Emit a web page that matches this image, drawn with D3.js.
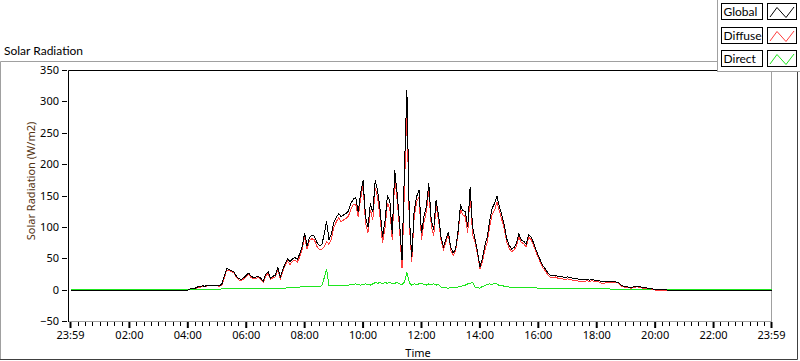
<!DOCTYPE html>
<html>
<head>
<meta charset="utf-8">
<script src="https://cdn.jsdelivr.net/npm/d3@7"></script>
<style>
  body { margin: 0; background: #fff; }
  svg { display: block; font-family: "Noto Sans", sans-serif; }
</style>
</head>
<body>
<div id="chart"></div>
<script>
// chart values
const xTickMinutes = [-1, 120, 240, 360, 480, 600, 720, 840, 960, 1080, 1200, 1320, 1439];
const xTickLabels = ["23:59", "02:00", "04:00", "06:00", "08:00", "10:00", "12:00", "14:00", "16:00", "18:00", "20:00", "22:00", "23:59"];
const yTicks = [-50, 0, 50, 100, 150, 200, 250, 300, 350];

const seriesNames = ["Global", "Diffuse", "Direct"];
const seriesColors = ["#000000", "#ff3c3c", "#1ee61e"];
const nightLevels = [0, 0, 1.5];   // value before first / after last sample

// samples every 5 min from 04:00 to 20:40
const startMinute = 240;
const stepMinutes = 5;

const globalRad = [
  0, 2, 3, 3, 5, 5, 7, 6, 8, 8, 8,
  8, 8, 7, 10, 22, 34, 33, 31, 29, 22,
  18, 17, 20, 24, 27, 22, 20, 21, 22, 19,
  14, 25, 29, 19, 22, 24, 36, 21, 33, 42,
  50, 45, 50, 52, 49, 58, 70, 91, 70, 84,
  88, 86, 76, 71, 72, 88, 110, 80, 90, 108,
  116, 122, 117, 120, 122, 126, 138, 145, 147, 125,
  154, 175, 117, 100, 138, 124, 175, 158, 128, 85,
  110, 150, 142, 90, 191, 154, 107, 48, 191, 319,
  117, 53, 127, 149, 159, 91, 117, 133, 170, 112,
  96, 143, 120, 85, 69, 80, 93, 69, 59, 66,
  93, 135, 127, 125, 101, 165, 100, 82, 62, 37,
  50, 70, 85, 110, 130, 138, 150, 133, 120, 104,
  82, 72, 65, 68, 74, 90, 80, 78, 73, 88,
  85, 76, 65, 55, 46, 38, 33, 27, 23, 23,
  24, 22, 21, 21, 20, 21, 20, 19, 18, 18,
  17, 17, 17, 17, 16, 17, 16, 16, 15, 13,
  13, 14, 14, 13, 14, 13, 12, 8, 6, 5,
  5, 4, 5, 6, 6, 5, 4, 4, 3, 3,
  2, 1, 1, 1, 1, 1, 0, 0, 0, 0
];

const diffuseRad = [
  0, 2, 2, 2, 4, 4, 6, 5, 7, 7, 7,
  7, 7, 6, 8, 20, 32, 31, 29, 27, 20,
  16, 15, 18, 22, 25, 20, 18, 19, 20, 17,
  12, 23, 27, 17, 20, 21, 33, 18, 30, 39,
  46, 41, 46, 48, 45, 53, 65, 86, 65, 79,
  82, 80, 70, 65, 65, 69, 77, 73, 82, 100,
  109, 115, 109, 112, 114, 118, 129, 136, 137, 116,
  146, 166, 107, 91, 128, 112, 163, 147, 116, 75,
  98, 139, 130, 80, 180, 144, 98, 35, 163, 291,
  105, 45, 117, 140, 149, 80, 108, 125, 160, 103,
  86, 135, 111, 80, 65, 76, 90, 64, 55, 62,
  88, 129, 120, 117, 91, 154, 88, 77, 58, 34,
  44, 63, 76, 100, 121, 127, 140, 126, 112, 98,
  77, 67, 61, 64, 70, 85, 76, 74, 69, 84,
  81, 72, 61, 52, 43, 35, 30, 24, 20, 20,
  21, 19, 18, 18, 17, 18, 17, 16, 15, 15,
  14, 14, 14, 15, 14, 15, 14, 14, 13, 11,
  11, 12, 12, 12, 13, 12, 11, 7, 5, 4,
  4, 3, 4, 5, 5, 4, 3, 3, 2, 2,
  1, 0, -1, -1, -1, -1, -1, 0, 0, 0
];

const directRad = [
  1.5, 1.5, 1.5, 1.5, 1.5, 1.5, 1.5, 1.5, 1.5, 1.5, 1.5,
  1.5, 1.5, 1.5, 2, 2, 2, 2, 2, 2, 2,
  2, 2, 2, 2, 2, 2, 2, 2, 2, 2,
  2, 2, 2, 2, 2, 3, 3, 3, 3, 3,
  4, 4, 4, 4, 4, 5, 5, 5, 5, 5,
  6, 6, 6, 6, 7, 19, 33, 7, 8, 8,
  7, 7, 8, 8, 8, 8, 9, 9, 10, 9,
  8, 9, 10, 9, 8, 10, 12, 11, 12, 10,
  12, 11, 12, 10, 11, 12, 10, 9, 13, 28,
  12, 8, 10, 9, 10, 11, 9, 8, 10, 9,
  10, 8, 9, 5, 4, 4, 3, 5, 4, 4,
  5, 6, 7, 8, 10, 11, 12, 5, 4, 3,
  6, 7, 9, 10, 9, 11, 10, 7, 8, 6,
  5, 5, 4, 4, 4, 5, 4, 4, 4, 4,
  4, 4, 4, 3, 3, 3, 3, 3, 3, 3,
  3, 3, 3, 3, 3, 3, 3, 3, 3, 3,
  3, 3, 3, 2, 2, 2, 2, 2, 2, 2,
  2, 2, 2, 1.5, 1.5, 1.5, 1.5, 1.5, 1.5, 1.5,
  1.5, 1.5, 1.5, 1.5, 1.5, 1.5, 1.5, 1.5, 1.5, 1.5,
  1.5, 1.5, 1.5, 1.5, 1.5, 1.5, 1.5, 1.5, 1.5, 1.5
];

const seriesValues = [globalRad, diffuseRad, directRad];

// layout
const width = 800, height = 361;
const plot = { left: 68, top: 70, right: 772, bottom: 322 };

const svg = d3.select("#chart").append("svg")
  .attr("width", width)
  .attr("height", height);

const x = d3.scaleLinear().domain([-1, 1439]).range([70.5, 771.5]);
const y = d3.scaleLinear().domain([-50, 350]).range([321.5, 70.5]);

// outer panel
svg.append("path")
  .attr("d", `M0.5,360 V61.5 H797`)
  .attr("fill", "none").attr("stroke", "#a0a0a0");
svg.append("path")
  .attr("d", `M0,359.5 H797.5 V61`)
  .attr("fill", "none").attr("stroke", "#404040");

svg.append("text")
  .attr("x", 4).attr("y", 55)
  .style("font-size", "12px")
  .style("font-family", "Lato")
  .text("Solar Radiation");

// plot frame
svg.append("path")
  .attr("d", `M${plot.right},${plot.bottom - 0.5} H${plot.left} `)
  .attr("stroke", "#a0a0a0").attr("fill", "none");
svg.append("path")
  .attr("d", `M${plot.right - 0.5},${plot.top} V${plot.bottom}`)
  .attr("stroke", "#a0a0a0").attr("fill", "none");
svg.append("path")
  .attr("d", `M${plot.left + 0.5},${plot.bottom} V${plot.top + 0.5} H${plot.right}`)
  .attr("stroke", "#000").attr("fill", "none");

// lines
const line = d3.line()
  .x(d => x(d[0]))
  .y(d => y(d[1]));

const order = [2, 1, 0];
order.forEach(k => {
  const vals = seriesValues[k];
  const pts = [[-1, nightLevels[k]]];
  vals.forEach((v, i) => pts.push([startMinute + i * stepMinutes, v]));
  pts.push([1439, nightLevels[k]]);
  svg.append("path")
    .datum(pts)
    .attr("d", line)
    .attr("fill", "none")
    .attr("stroke", seriesColors[k])
    .attr("stroke-width", 1)
    .attr("shape-rendering", "crispEdges");
});

// y axis
const yAxis = svg.append("g")
  .attr("transform", `translate(${plot.left - 1},0)`)
  .call(d3.axisLeft(y).tickValues(yTicks).tickSize(5).tickSizeOuter(0).tickPadding(3).offset(0));
yAxis.select(".domain").remove();
yAxis.selectAll("line").attr("stroke", "#000").attr("shape-rendering", "crispEdges");
yAxis.selectAll("text")
  .style("font-size", "11px")
  .style("font-family", "Noto Sans")
  .attr("fill", "#000");

// x axis: minor ticks every 15 min
const minorTicks = d3.range(15, 1440, 15).filter(m => m % 120 !== 0);
svg.append("g")
  .selectAll("line")
  .data(minorTicks)
  .join("line")
  .attr("x1", d => Math.round(x(d) - 0.5) + 0.5)
  .attr("x2", d => Math.round(x(d) - 0.5) + 0.5)
  .attr("y1", plot.bottom)
  .attr("y2", plot.bottom + 4)
  .attr("stroke", "#000");

const xAxis = svg.append("g")
  .attr("transform", `translate(0,${plot.bottom})`)
  .call(d3.axisBottom(x)
    .tickValues(xTickMinutes)
    .tickFormat((d, i) => xTickLabels[i])
    .tickSize(6).tickSizeOuter(0).tickPadding(3).offset(0));
xAxis.select(".domain").remove();
xAxis.selectAll("line").attr("stroke", "#000").attr("stroke-width", 2);
xAxis.selectAll("text")
  .style("font-size", "11px")
  .style("font-family", "Noto Sans")
  .attr("fill", "#000");

// axis titles
svg.append("text")
  .attr("x", 418).attr("y", 357)
  .attr("text-anchor", "middle")
  .style("font-size", "11px")
  .text("Time");

svg.append("text")
  .attr("transform", "translate(35,181) rotate(-90)")
  .attr("text-anchor", "middle")
  .style("font-size", "11px")
  .attr("fill", "#553311")
  .text("Solar Radiation (W/m2)");

// legend
const legend = svg.append("g");
legend.append("rect")
  .attr("x", 717.5).attr("y", -1)
  .attr("width", 90).attr("height", 72.5)
  .attr("fill", "#fff").attr("stroke", "#a0a0a0");

seriesNames.forEach((name, i) => {
  const top = 3 + i * 23.5;
  const g = legend.append("g")
    .attr("transform", `translate(0,${Math.round(top)})`);

  g.append("rect")
    .attr("x", 721.5).attr("y", 0.5)
    .attr("width", 41).attr("height", 16)
    .attr("fill", "#fff").attr("stroke", "#000");
  g.append("text")
    .attr("x", 723.5).attr("y", 13)
    .style("font-size", "12px")
    .style("font-family", "Lato")
    .text(name);

  g.append("rect")
    .attr("x", 767.5).attr("y", 0.5)
    .attr("width", 29).attr("height", 16)
    .attr("fill", "#fff").attr("stroke", "#000");
  g.append("path")
    .attr("d", "M770,14 L777,4.5 L786,14.5 L794,4")
    .attr("fill", "none")
    .attr("stroke", seriesColors[i]);
});
</script>
</body>
</html>
